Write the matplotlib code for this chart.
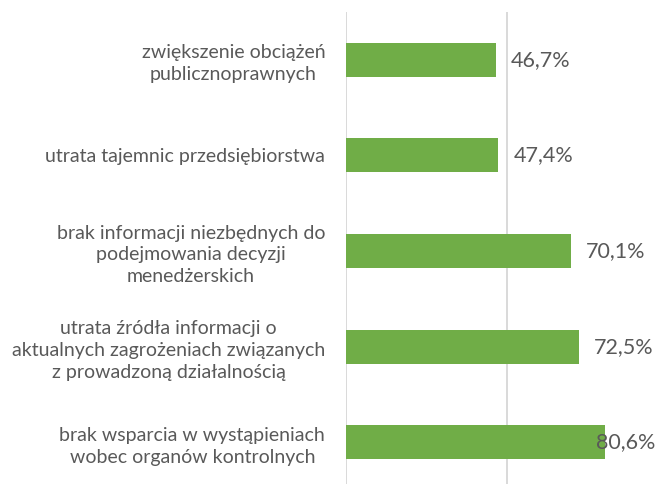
import matplotlib
matplotlib.use('Agg')
import matplotlib.pyplot as plt

# categories, top to bottom
categories = [
    "zwiększenie obciążeń\npublicznoprawnych",
    "utrata tajemnic przedsiębiorstwa",
    "brak informacji niezbędnych do\npodejmowania decyzji\nmenedżerskich",
    "utrata źródła informacji o\naktualnych zagrożeniach związanych\nz prowadzoną działalnością",
    "brak wsparcia w wystąpieniach\nwobec organów kontrolnych",
]
values = [46.7, 47.4, 70.1, 72.5, 80.6]
value_labels = ["46,7%", "47,4%", "70,1%", "72,5%", "80,6%"]

GREEN = '#70AD47'
GREY_TEXT = '#595959'
GRID = '#D9D9D9'

plt.rcParams['font.family'] = ['Lato', 'DejaVu Sans']


def create_plot():
    fig = plt.figure(figsize=(6.6, 4.84), dpi=100)
    # plot area runs a little past the right and bottom edges, like the original
    ax = fig.add_axes([346 / 660, 1 - 490 / 484, 321 / 660, 478 / 484])

    ypos = list(range(len(categories)))
    ax.barh(ypos, values, height=0.355, color=GREEN, zorder=2)

    ax.set_xlim(0, 100)
    ax.set_ylim(len(categories) - 0.5, -0.5)
    ax.set_xticks([0, 50, 100])
    ax.xaxis.grid(True, color=GRID, linewidth=1.4, zorder=0)
    ax.set_axisbelow(True)
    ax.tick_params(axis='x', length=0, labelbottom=False)
    ax.tick_params(axis='y', length=0, pad=15)
    for s in ax.spines.values():
        s.set_visible(False)

    ax.set_yticks(ypos)
    ax.set_yticklabels(categories, fontsize=14, color=GREY_TEXT,
                       multialignment='center', linespacing=1.35)

    fig.canvas.draw()
    renderer = fig.canvas.get_renderer()
    right_limit = 655
    for y, v, lab in zip(ypos, values, value_labels):
        t = ax.annotate(lab, xy=(v, y), xytext=(11, 0), textcoords='offset points',
                        ha='left', va='center', fontsize=15.5, color=GREY_TEXT,
                        zorder=3, annotation_clip=False)
        bb = t.get_window_extent(renderer)
        if bb.x1 > right_limit:
            t.set_position((11 - (bb.x1 - right_limit) * 72 / fig.dpi, 0))

    fig.savefig('out.png', dpi=100)


if __name__ == '__main__':
    create_plot()
